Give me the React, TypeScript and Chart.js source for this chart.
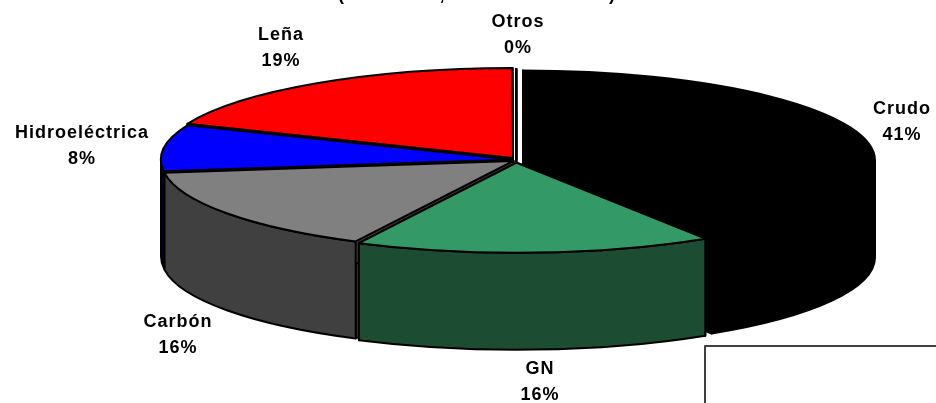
import React, { useEffect, useRef } from "react";
import { Chart, registerables } from "chart.js";

Chart.register(...registerables);

// Data
const categories = ["Crudo", "GN", "Carbón", "Hidroeléctrica", "Leña", "Otros"];
const shares = [41, 16.4, 15.5, 8.3, 18.78, 0.02];
const topColors = ["#000000", "#339966", "#808080", "#0000FF", "#FF0000", "#FFFFFF"];
const wallColors = ["#000000", "#1C4D33", "#404040", "#000040", "#800000", "#808080"];
const titleFragments = ["(", ",", ")"];

// Layout
const W = 936;
const H = 403;
const CX = 516;
const CY = 160;
const RX = 352;
const RY = 90;
const DEPTH = 97;
const shiftX = [7, 0.7, -2.5, -3, -3, 0.5];
const shiftY = [0.5, 2.7, 1, -0.5, -2, -1];
const labelX = [902, 540, 178, 82, 281, 518];
const labelY = [109, 369, 322, 133, 35, 22];
const titleX = [341, 442, 612];
const FONT = 'bold 18px "Liberation Sans", Arial, sans-serif';
const LINE_H = 26;

const pie3d = {
  id: "pie3d",
  beforeDatasetsDraw(chart: any) {
    const ctx: CanvasRenderingContext2D = chart.ctx;
    const arcs: any[] = chart.getDatasetMeta(0).data;
    const order = arcs
      .map((a, i) => ({ a, i, s: Math.sin((a.startAngle + a.endAngle) / 2) }))
      .sort((p, q) => p.s - q.s);

    const outline = () => {
      ctx.strokeStyle = "#000000";
      ctx.lineWidth = 2;
      ctx.lineJoin = "round";
      ctx.stroke();
    };

    for (const { a, i } of order) {
      const x = CX + shiftX[i];
      const y = CY + shiftY[i];
      const start = a.startAngle;
      const end = a.endAngle;
      ctx.fillStyle = wallColors[i];

      // radial cut faces
      for (const ang of [start, end]) {
        const ex = x + RX * Math.cos(ang);
        const ey = y + RY * Math.sin(ang);
        ctx.beginPath();
        ctx.moveTo(x, y);
        ctx.lineTo(ex, ey);
        ctx.lineTo(ex, ey + DEPTH);
        ctx.lineTo(x, y + DEPTH);
        ctx.closePath();
        ctx.fill();
        outline();
      }

      // outer wall: the part of the rim that faces the viewer
      const from = Math.max(start, 0);
      const to = Math.min(end, Math.PI);
      if (to > from) {
        ctx.beginPath();
        ctx.ellipse(x, y, RX, RY, 0, from, to);
        ctx.ellipse(x, y + DEPTH, RX, RY, 0, to, from, true);
        ctx.closePath();
        ctx.fill();
        outline();
      }

      // top face: the library's arc, flattened into an ellipse
      const R = a.outerRadius;
      ctx.save();
      ctx.translate(x, y);
      ctx.scale(RX / R, RY / R);
      ctx.translate(-a.x, -a.y);
      a.draw(ctx);
      ctx.restore();

      ctx.beginPath();
      ctx.moveTo(x, y);
      ctx.ellipse(x, y, RX, RY, 0, start, end);
      ctx.closePath();
      outline();
    }
    return false;
  },
  afterDraw(chart: any) {
    const ctx: CanvasRenderingContext2D = chart.ctx;
    ctx.save();
    ctx.fillStyle = "#000000";
    ctx.font = FONT;
    ctx.textAlign = "center";
    ctx.textBaseline = "middle";
    (ctx as any).letterSpacing = "1px";
    categories.forEach((c, i) => {
      ctx.fillText(c, labelX[i], labelY[i]);
      ctx.fillText(`${Math.round(shares[i])}%`, labelX[i], labelY[i] + LINE_H);
    });
    (ctx as any).letterSpacing = "0px";

    // title, of which only the bottom of the glyphs shows at the page's top edge
    ctx.textBaseline = "alphabetic";
    titleFragments.forEach((t, i) => ctx.fillText(t, titleX[i], -0.5));

    // frame of a neighbouring box, cut by the page edge
    ctx.strokeStyle = "#404040";
    ctx.lineWidth = 2;
    ctx.beginPath();
    ctx.moveTo(705, H);
    ctx.lineTo(705, 346);
    ctx.lineTo(W, 346);
    ctx.stroke();
    ctx.restore();
  },
};

export default function App() {
  const ref = useRef<HTMLCanvasElement>(null);
  useEffect(() => {
    const chart = new Chart(ref.current as HTMLCanvasElement, {
      type: "pie",
      data: {
        labels: categories,
        datasets: [{ data: shares, backgroundColor: topColors, borderWidth: 0 }],
      },
      options: {
        animation: false,
        responsive: false,
        plugins: { legend: { display: false }, tooltip: { enabled: false } },
        layout: { padding: 0 },
      },
      plugins: [pie3d],
    } as any);
    return () => chart.destroy();
  }, []);
  return (
    <div style={{ position: "fixed", left: 0, top: 0, width: W, height: H, background: "#fff", overflow: "hidden" }}>
      <canvas ref={ref} width={W} height={H} style={{ display: "block" }} />
    </div>
  );
}
